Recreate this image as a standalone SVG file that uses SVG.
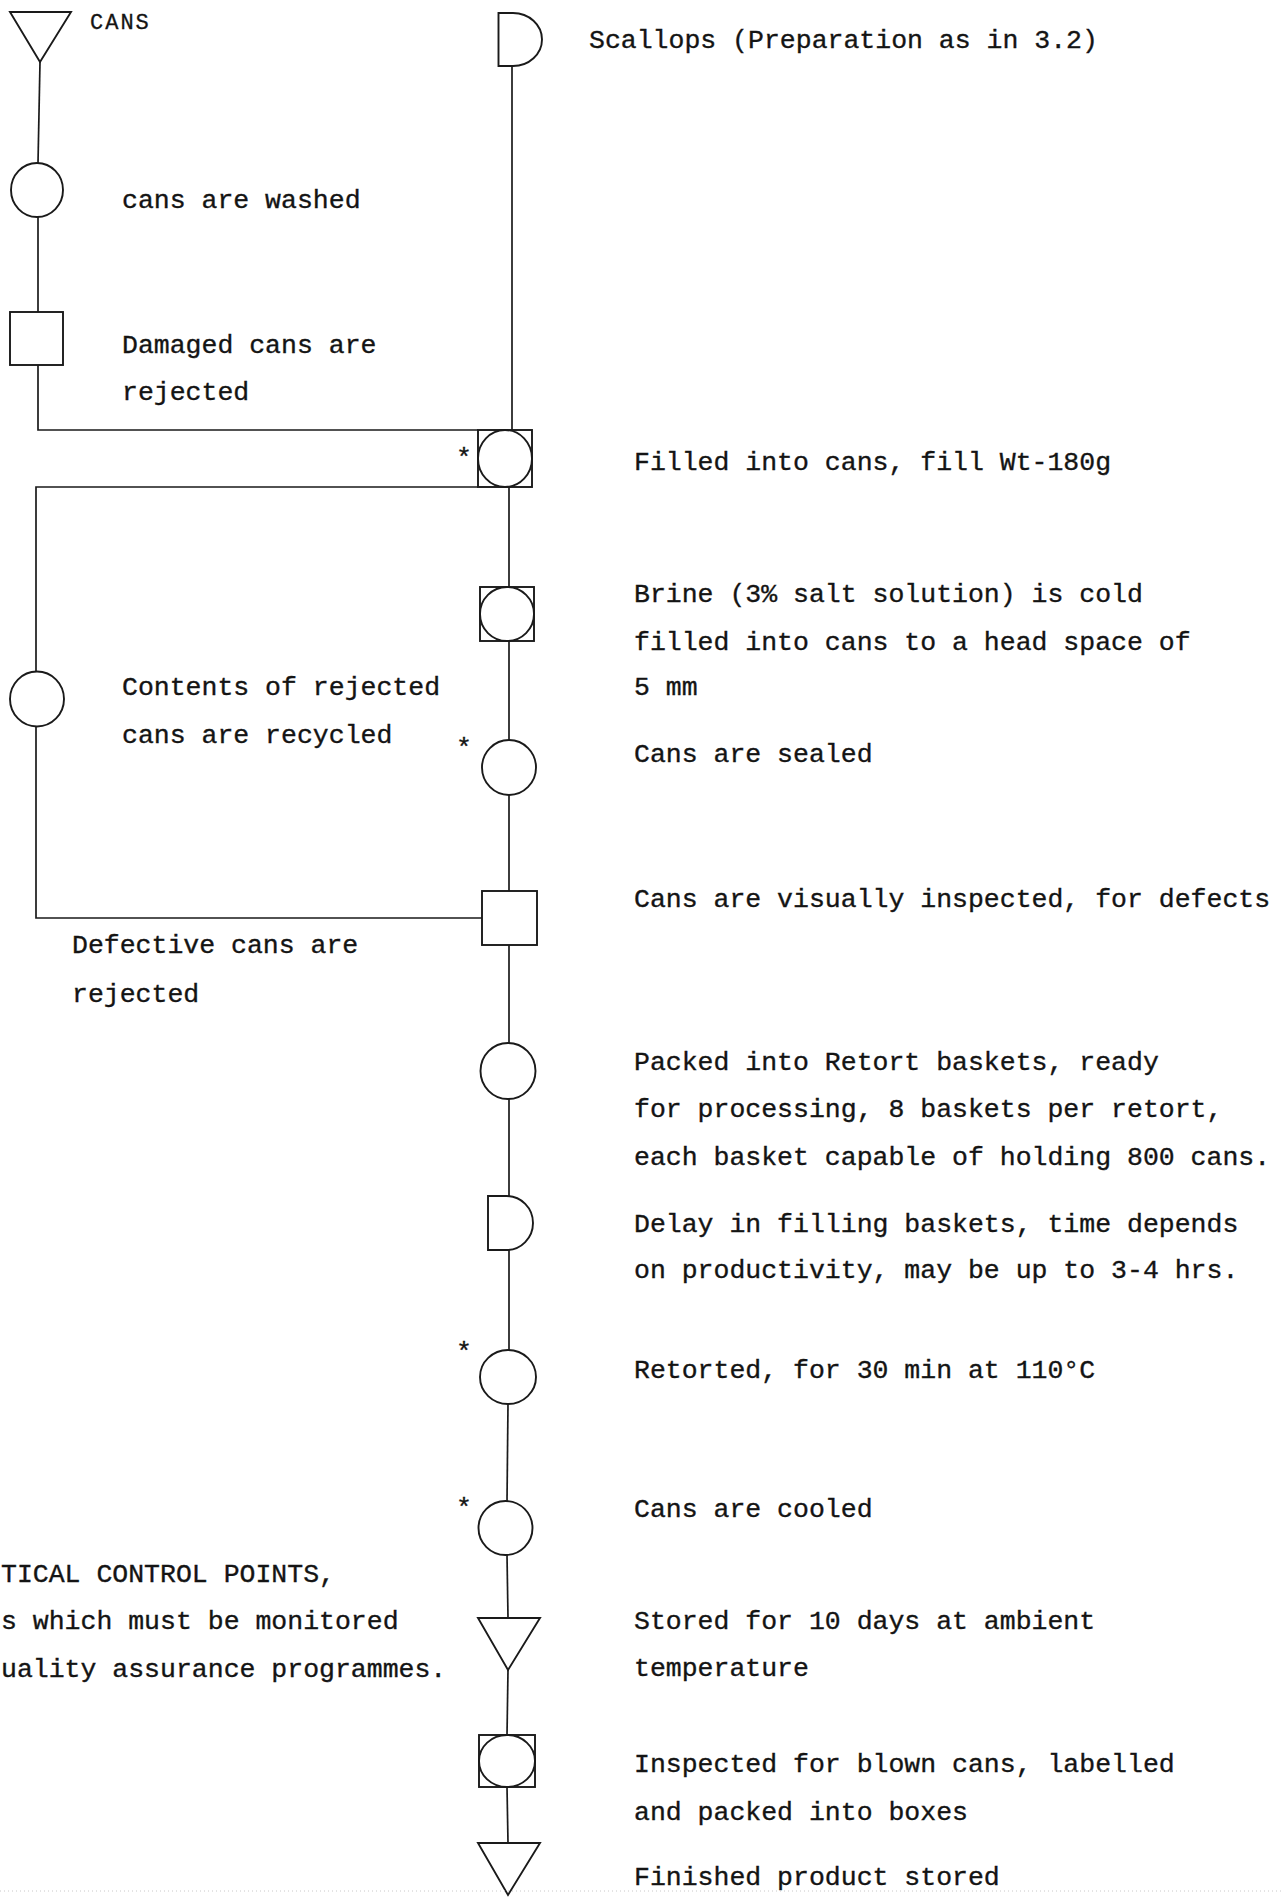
<svg xmlns="http://www.w3.org/2000/svg" width="1283" height="1897" viewBox="0 0 1283 1897">
<style>
  .bg{fill:#ffffff}
  .sh{fill:none;stroke:#1a1a1a;stroke-width:1.9}
  .ln{fill:none;stroke:#1a1a1a;stroke-width:1.7}
  .t{font-family:"Liberation Mono","DejaVu Sans Mono",monospace;font-size:26.5px;fill:#141414;stroke:#141414;stroke-width:0.35}
  .cans{font-family:"Liberation Mono","DejaVu Sans Mono",monospace;font-size:22px;letter-spacing:2px;fill:#141414;stroke:#141414;stroke-width:0.3}
  .dot{stroke:#c8c8c8;stroke-width:1;stroke-dasharray:1 3}
</style>
<rect class="bg" x="0" y="0" width="1283" height="1897"/>

<g id="connectors">
  <line class="ln" x1="40" y1="62" x2="38" y2="163"/>
  <line class="ln" x1="38" y1="217" x2="38" y2="312"/>
  <polyline class="ln" points="38,365 38,430 478,430"/>
  <line class="ln" x1="512" y1="66" x2="512" y2="430"/>
  <polyline class="ln" points="478,487 36,487 36,672"/>
  <polyline class="ln" points="36,727 36,918 482,918"/>
  <line class="ln" x1="509" y1="487" x2="509" y2="587"/>
  <line class="ln" x1="509" y1="641" x2="509" y2="740"/>
  <line class="ln" x1="509" y1="795" x2="509" y2="891"/>
  <line class="ln" x1="509" y1="945" x2="509" y2="1043"/>
  <line class="ln" x1="509" y1="1099" x2="509" y2="1196"/>
  <line class="ln" x1="509" y1="1250" x2="509" y2="1350"/>
  <line class="ln" x1="508" y1="1404" x2="507" y2="1501"/>
  <line class="ln" x1="507" y1="1555" x2="508" y2="1618"/>
  <line class="ln" x1="508" y1="1670" x2="507" y2="1735"/>
  <line class="ln" x1="507" y1="1787" x2="508" y2="1843"/>
</g>

<g id="n-cans">
  <polygon class="sh" points="10,12 71,12 40,62"/>
  <text class="cans" x="90" y="29">CANS</text>
</g>
<g id="n-wash">
  <ellipse class="sh" cx="37" cy="190" rx="26" ry="27"/>
  <text class="t" x="122" y="208">cans are washed</text>
</g>
<g id="n-damaged">
  <rect class="sh" x="10" y="312" width="53" height="53"/>
  <text class="t" x="122" y="353">Damaged cans are</text>
  <text class="t" x="122" y="400">rejected</text>
</g>
<g id="n-scallops">
  <path class="sh" d="M513,13 H498.5 V66 H513 A29,26.5 0 0 0 513,13 Z"/>
  <text class="t" x="589" y="48">Scallops (Preparation as in 3.2)</text>
</g>
<g id="n-fill">
  <rect class="sh" x="478" y="430" width="54" height="57"/>
  <ellipse class="sh" cx="505" cy="458.5" rx="27" ry="28.5"/>
  <text class="t" x="456" y="466">*</text>
  <text class="t" x="634" y="470">Filled into cans, fill Wt-180g</text>
</g>
<g id="n-brine">
  <rect class="sh" x="480" y="587" width="54" height="54"/>
  <ellipse class="sh" cx="507" cy="614" rx="27" ry="27"/>
  <text class="t" x="634" y="602">Brine (3% salt solution) is cold</text>
  <text class="t" x="634" y="650">filled into cans to a head space of</text>
  <text class="t" x="634" y="695">5 mm</text>
</g>
<g id="n-recycle">
  <ellipse class="sh" cx="37" cy="699" rx="27" ry="27.5"/>
  <text class="t" x="122" y="695">Contents of rejected</text>
  <text class="t" x="122" y="743">cans are recycled</text>
</g>
<g id="n-sealed">
  <ellipse class="sh" cx="509" cy="767.5" rx="27" ry="27.5"/>
  <text class="t" x="456" y="756">*</text>
  <text class="t" x="634" y="762">Cans are sealed</text>
</g>
<g id="n-inspect">
  <rect class="sh" x="482" y="891" width="55" height="54"/>
  <text class="t" x="634" y="907">Cans are visually inspected, for defects</text>
  <text class="t" x="72" y="953">Defective cans are</text>
  <text class="t" x="72" y="1002">rejected</text>
</g>
<g id="n-packed">
  <ellipse class="sh" cx="508" cy="1071" rx="27.5" ry="28"/>
  <text class="t" x="634" y="1070">Packed into Retort baskets, ready</text>
  <text class="t" x="634" y="1117">for processing, 8 baskets per retort,</text>
  <text class="t" x="634" y="1165">each basket capable of holding 800 cans.</text>
</g>
<g id="n-delay">
  <path class="sh" d="M506.5,1196 H488 V1250 H506.5 A26.5,27 0 0 0 506.5,1196 Z"/>
  <text class="t" x="634" y="1232">Delay in filling baskets, time depends</text>
  <text class="t" x="634" y="1278">on productivity, may be up to 3-4 hrs.</text>
</g>
<g id="n-retort">
  <ellipse class="sh" cx="508" cy="1377" rx="28" ry="27"/>
  <text class="t" x="456" y="1360">*</text>
  <text class="t" x="634" y="1378">Retorted, for 30 min at 110°C</text>
</g>
<g id="n-cooled">
  <ellipse class="sh" cx="505.5" cy="1528" rx="27" ry="27"/>
  <text class="t" x="456" y="1516">*</text>
  <text class="t" x="634" y="1517">Cans are cooled</text>
</g>
<g id="n-stored">
  <polygon class="sh" points="478,1618 540,1618 508,1670"/>
  <text class="t" x="634" y="1629">Stored for 10 days at ambient</text>
  <text class="t" x="634" y="1676">temperature</text>
</g>
<g id="n-label">
  <rect class="sh" x="479" y="1735" width="56" height="52"/>
  <ellipse class="sh" cx="507" cy="1761" rx="28" ry="26"/>
  <text class="t" x="634" y="1772">Inspected for blown cans, labelled</text>
  <text class="t" x="634" y="1820">and packed into boxes</text>
</g>
<g id="n-finished">
  <polygon class="sh" points="478,1843 540,1843 508,1895"/>
  <text class="t" x="634" y="1885">Finished product stored</text>
</g>
<g id="legend">
  <text class="t" x="1" y="1582">TICAL CONTROL POINTS,</text>
  <text class="t" x="1" y="1629">s which must be monitored</text>
  <text class="t" x="1" y="1677">uality assurance programmes.</text>
</g>
<line class="dot" x1="0" y1="1891" x2="1283" y2="1891"/>
</svg>
